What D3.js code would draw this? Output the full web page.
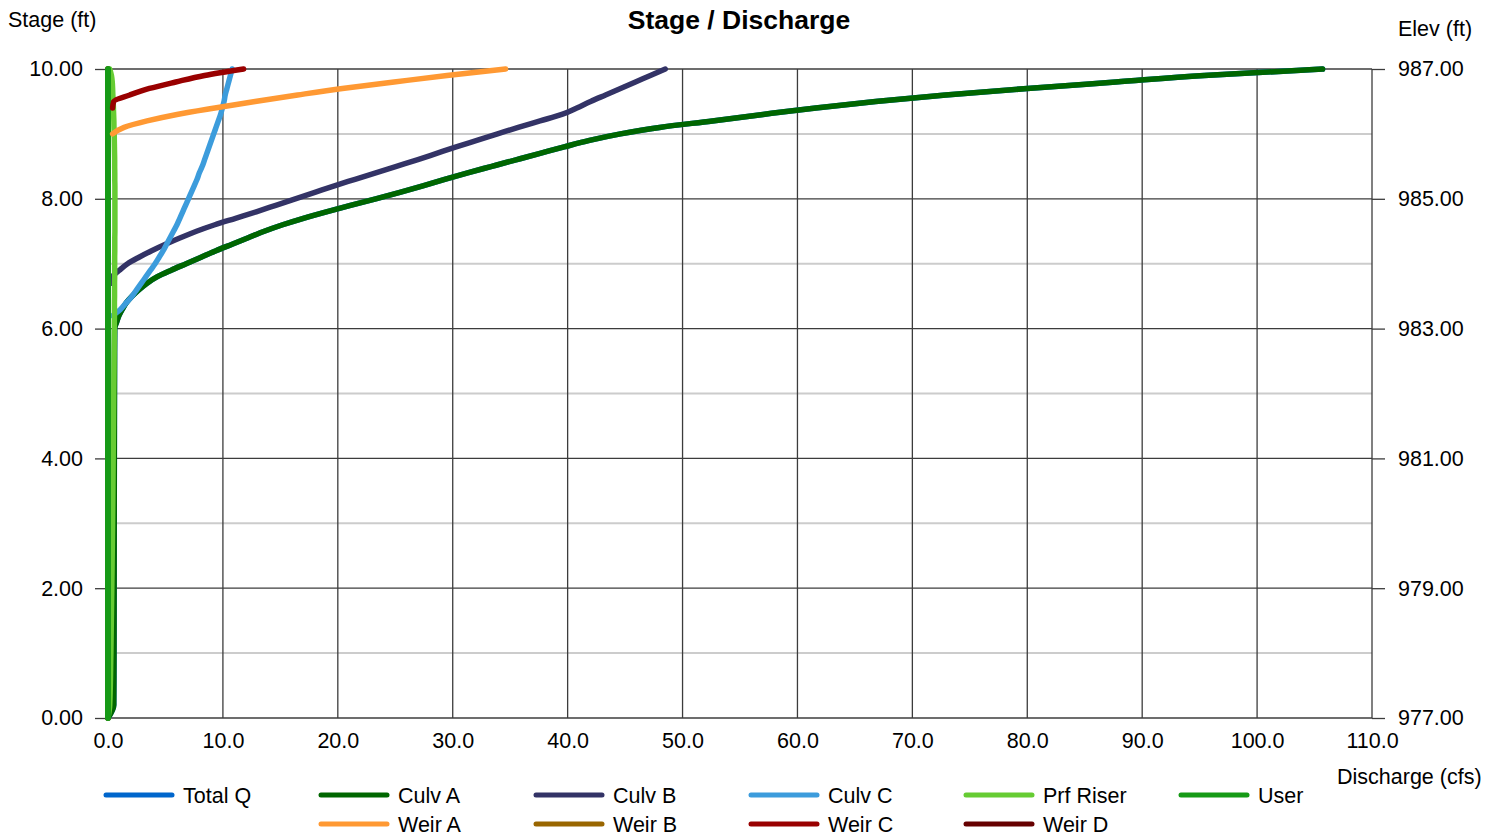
<!DOCTYPE html>
<html>
<head>
<meta charset="utf-8">
<script src="https://cdn.jsdelivr.net/npm/d3@7"></script>
<style>
  html, body { margin: 0; padding: 0; background: #fff; }
  svg { display: block; font-family: "Liberation Sans", Arial, sans-serif; }
</style>
</head>
<body>
<svg id="chart" width="1496" height="834"></svg>
<script>
// Stage (ft) at which each discharge is tabulated
const stage = [0, 0.2, 1, 2, 3, 4, 5,
  6.0, 6.1, 6.2, 6.3, 6.4, 6.5, 6.6, 6.7, 6.8, 6.9,
  7.0, 7.1, 7.2, 7.3, 7.4, 7.5, 7.6, 7.7, 7.8, 7.9,
  8.0, 8.1, 8.2, 8.3, 8.4, 8.5, 8.6, 8.7, 8.8, 8.9,
  9.0, 9.1, 9.2, 9.3, 9.4, 9.5, 9.6, 9.7, 9.8, 9.9, 10.0];

// Discharge (cfs) per device; null = not flowing at that stage
const totalQ = [0, 0.5, 0.52, 0.53, 0.54, 0.55, 0.56,
  0.58, 0.75, 0.95, 1.25, 1.6, 2.1, 2.7, 3.4, 4.3, 5.5,
  6.8, 8.1, 9.4, 10.8, 12.2, 13.6, 15.2, 17.0, 19.0, 21.1,
  23.3, 25.4, 27.4, 29.3, 31.3, 33.4, 35.5, 37.6, 39.7, 41.9,
  44.6, 48.0, 52.6, 57.0, 61.6, 66.8, 72.9, 80.0, 87.7, 95.4, 105.7];

const culvA = [0, 0.5, 0.52, 0.53, 0.54, 0.55, 0.56,
  0.58, 0.75, 0.95, 1.25, 1.6, 2.1, 2.7, 3.4, 4.3, 5.5,
  6.8, 8.1, 9.4, 10.8, 12.2, 13.6, 15.2, 17.0, 19.0, 21.1,
  23.3, 25.4, 27.4, 29.3, 31.3, 33.4, 35.5, 37.6, 39.7, 41.9,
  44.6, 48.0, 52.6, 57.0, 61.6, 66.8, 72.9, 80.0, 87.7, 95.4, 105.7];

const culvB = [null, null, null, null, null, null, null,
  null, null, null, null, null, null, null, 0.3, 0.4, 1.0,
  1.7, 2.7, 3.8, 5.0, 6.3, 7.7, 9.3, 11.1, 12.9, 14.6,
  16.3, 18.0, 19.7, 21.5, 23.3, 25.1, 26.9, 28.6, 30.3, 32.1,
  33.9, 35.7, 37.6, 39.5, 40.8, 42.0, 43.3, 44.6, 45.9, 47.2, 48.5];

const culvC = [null, null, null, null, null, null, null,
  null, null, 0.4, 1.1, 1.6, 2.1, 2.5, 2.9, 3.3, 3.7,
  4.1, 4.45, 4.8, 5.1, 5.4, 5.7, 6.0, 6.25, 6.5, 6.75,
  7.0, 7.25, 7.5, 7.75, 7.95, 8.2, 8.4, 8.6, 8.8, 9.0,
  9.2, 9.4, 9.6, 9.8, 9.95, 10.1, 10.2, 10.35, 10.5, 10.65, 10.8];

const prfRiser = [0, 0.15, 0.25, 0.33, 0.4, 0.45, 0.5,
  0.55, 0.55, 0.56, 0.56, 0.56, 0.57, 0.57, 0.57, 0.58, 0.58,
  0.58, 0.58, 0.59, 0.59, 0.59, 0.6, 0.6, 0.6, 0.6, 0.6,
  0.6, 0.6, 0.6, 0.59, 0.59, 0.58, 0.58, 0.57, 0.56, 0.55,
  0.54, 0.52, 0.51, 0.49, 0.47, 0.45, 0.42, 0.4, 0.37, 0.3, 0.15];

const user = stage.map(() => 0);

const weirA = [null, null, null, null, null, null, null,
  null, null, null, null, null, null, null, null, null, null,
  null, null, null, null, null, null, null, null, null, null,
  null, null, null, null, null, null, null, null, null, null,
  0.4, 1.4, 3.4, 6.0, 9.3, 12.8, 16.5, 20.4, 24.9, 29.5, 34.6];

const weirB = stage.map(() => 0);

const weirC = [null, null, null, null, null, null, null,
  null, null, null, null, null, null, null, null, null, null,
  null, null, null, null, null, null, null, null, null, null,
  null, null, null, null, null, null, null, null, null, null,
  null, null, null, null, 0.4, 0.5, 1.9, 3.6, 5.9, 8.4, 11.8];

const weirD = stage.map(() => 0);

const legendNames = ["Total Q", "Culv A", "Culv B", "Culv C", "Prf Riser", "User",
                     "Weir A", "Weir B", "Weir C", "Weir D"];
const legendColors = ["#0066CC", "#006600", "#333366", "#3C9CDC", "#66CC33", "#169A16",
                      "#FF9933", "#996600", "#990000", "#660000"];
const seriesValues = [totalQ, culvA, culvB, culvC, prfRiser, user, weirA, weirB, weirC, weirD];

const xTicks = d3.range(0, 111, 10);
const stageTicks = [0, 2, 4, 6, 8, 10];
const stageMinor = [1, 3, 5, 7, 9];
const elevTicks = [977, 979, 981, 983, 985, 987];

// ---- drawing ----
const svg = d3.select("#chart");
const plotL = 108, plotR = 1372, plotT = 69, plotB = 718;
const fontPx = "21.5px";

const x = d3.scaleLinear().domain([0, 110]).range([plotL, plotR]);
const y = d3.scaleLinear().domain([0, 10]).range([plotB, plotT]);
const yElev = d3.scaleLinear().domain([977, 987]).range([plotB, plotT]);

const grid = svg.append("g");
grid.selectAll("line.minor").data(stageMinor).join("line")
  .attr("x1", plotL).attr("x2", plotR)
  .attr("y1", d => y(d)).attr("y2", d => y(d))
  .attr("stroke", "#cccccc").attr("stroke-width", 2);
grid.selectAll("line.v").data(xTicks).join("line")
  .attr("x1", d => x(d)).attr("x2", d => x(d))
  .attr("y1", plotT).attr("y2", plotB)
  .attr("stroke", "#3c3c3c").attr("stroke-width", 1.3);
grid.selectAll("line.h").data(stageTicks).join("line")
  .attr("x1", plotL).attr("x2", plotR)
  .attr("y1", d => y(d)).attr("y2", d => y(d))
  .attr("stroke", "#3c3c3c").attr("stroke-width", 1.3);

function styleAxis(g) {
  g.select(".domain").remove();
  g.selectAll(".tick line").attr("stroke", "#3c3c3c").attr("stroke-width", 1.3);
  g.selectAll(".tick text").attr("fill", "#000").style("font-size", fontPx)
    .style("font-family", "'Liberation Sans', Arial, sans-serif");
}

svg.append("g").attr("transform", `translate(${plotL},0)`)
  .call(d3.axisLeft(y).tickValues(stageTicks).tickFormat(d3.format(".2f")).tickSize(13).tickPadding(12))
  .call(styleAxis);
svg.append("g").attr("transform", `translate(${plotR},0)`)
  .call(d3.axisRight(yElev).tickValues(elevTicks).tickFormat(d3.format(".2f")).tickSize(13).tickPadding(13))
  .call(styleAxis);
svg.append("g").attr("transform", `translate(0,${plotB})`)
  .call(d3.axisBottom(x).tickValues(xTicks).tickFormat(d3.format(".1f")).tickSize(0).tickPadding(15))
  .call(styleAxis);

// series lines
const line = d3.line()
  .defined(d => d.q !== null)
  .x(d => x(d.q)).y(d => y(d.s))
  .curve(d3.curveMonotoneY);

const drawOrder = [0, 1, 2, 3, 7, 9, 4, 5, 6, 8];
const plot = svg.append("g");
drawOrder.forEach(i => {
  const pts = stage.map((s, k) => ({ s, q: seriesValues[i][k] }));
  plot.append("path")
    .attr("d", line(pts))
    .attr("fill", "none")
    .attr("stroke", legendColors[i])
    .attr("stroke-width", legendNames[i] === "User" ? 6 : 5.5)
    .attr("stroke-linecap", "round")
    .attr("stroke-linejoin", "round");
});

// titles
svg.append("text").attr("x", 739).attr("y", 29).attr("text-anchor", "middle")
  .style("font-size", "26.5px").style("font-weight", "bold").text("Stage / Discharge");
svg.append("text").attr("x", 8).attr("y", 27).style("font-size", fontPx).text("Stage (ft)");
svg.append("text").attr("x", 1398).attr("y", 36).style("font-size", fontPx).text("Elev (ft)");
svg.append("text").attr("x", 1337).attr("y", 784).style("font-size", fontPx).text("Discharge (cfs)");

// legend: six per row, second row centred
const legendPos = legendNames.map((n, i) => i < 6 ? { col: i, row: 0 } : { col: i - 5, row: 1 });
const leg = svg.append("g");
legendNames.forEach((n, i) => {
  const cx = 106 + 215 * legendPos[i].col;
  const cy = 795 + 29 * legendPos[i].row;
  leg.append("line").attr("x1", cx).attr("x2", cx + 66).attr("y1", cy).attr("y2", cy)
    .attr("stroke", legendColors[i]).attr("stroke-width", 5).attr("stroke-linecap", "round");
  leg.append("text").attr("x", cx + 77).attr("y", cy + 7.5)
    .style("font-size", fontPx).text(n);
});
</script>
</body>
</html>
